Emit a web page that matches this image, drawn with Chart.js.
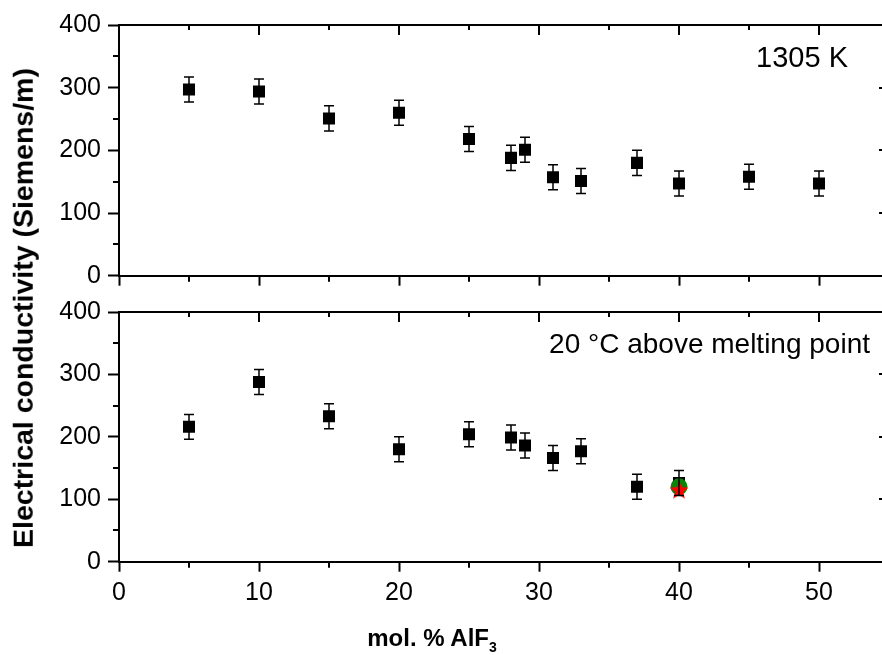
<!DOCTYPE html>
<html>
<head>
<meta charset="utf-8">
<script src="https://cdn.jsdelivr.net/npm/chart.js@4/dist/chart.umd.min.js"></script>
<style>
  html, body { margin: 0; padding: 0; background: #fff; overflow: hidden; }
  #wrap { position: relative; width: 882px; height: 655px; font-family: 'Liberation Sans', Arial, sans-serif; }
  canvas { position: absolute; left: 0; }
  #topChart { top: 0; }
  #botChart { top: 290px; }
  .ytitle { position: absolute; left: 23px; top: 308px; transform: translate(-50%, -50%) rotate(-90deg);
            white-space: nowrap; font-weight: bold; font-size: 28.5px; line-height: 1; color: #000; }
  .xtitle { position: absolute; left: 432px; top: 626px; transform: translateX(-50%);
            white-space: nowrap; font-weight: bold; font-size: 24px; line-height: 1; color: #000; }
  .xtitle sub { font-size: 14px; vertical-align: -6px; line-height: 0; }
</style>
</head>
<body>
<div id="wrap">
  <canvas id="topChart" width="882" height="300"></canvas>
  <canvas id="botChart" width="882" height="365"></canvas>
  <div class="ytitle">Electrical conductivity (Siemens/m)</div>
  <div class="xtitle">mol. % AlF<sub>3</sub></div>
</div>
<script>
// mol. % AlF3
var xHot = [5, 10, 15, 20, 25, 28, 29, 31, 33, 37, 40, 45, 50];
// conductivity at 1305 K
var sigmaHot = [297, 294, 251, 260, 218, 188, 201, 157, 151, 180, 147, 158, 147];
var errHot = [20, 20, 20, 20, 20, 20, 20, 20, 20, 20, 20, 20, 20];
// conductivity 20 °C above melting point
var xMelt = [5, 10, 15, 20, 25, 28, 29, 31, 33, 37, 40];
var sigmaMelt = [216, 288, 233, 180, 204, 199, 186, 166, 177, 120, 126];
var errMelt = [20, 20, 20, 20, 20, 20, 20, 20, 20, 20, 20];
// extra points at 40 mol. %
var xExtra = [40];
var circleVal = [120];
var starVal = [114];

var xMajor = [0, 10, 20, 30, 40, 50];
var yMajor = [0, 100, 200, 300, 400];

var FONT = "'Liberation Sans', Arial, sans-serif";

function pts(xs, ys) {
    return xs.map(function(v, i) { return {x: v, y: ys[i]}; });
}

// red filled star used as point style
var starImg = document.createElement('canvas');
starImg.width = 22; starImg.height = 22;
(function() {
    var c = starImg.getContext('2d');
    c.fillStyle = '#ff0000';
    c.beginPath();
    for (var k = 0; k < 10; k++) {
        var r = k % 2 ? 4.2 : 10;
        var a = -Math.PI / 2 + k * Math.PI / 5;
        var px = 11 + r * Math.cos(a), py = 11 + r * Math.sin(a);
        if (k === 0) c.moveTo(px, py); else c.lineTo(px, py);
    }
    c.closePath();
    c.fill();
})();

var errorBars = {
    id: 'errorBars',
    afterDatasetsDraw: function(chart) {
        var ctx = chart.ctx, ys = chart.scales.y;
        chart.data.datasets.forEach(function(ds, i) {
            if (!ds.errors) return;
            var meta = chart.getDatasetMeta(i);
            ctx.save();
            ctx.strokeStyle = '#000';
            ctx.lineWidth = 1.5;
            meta.data.forEach(function(pt, j) {
                var v = ds.data[j].y, e = ds.errors[j];
                var yt = ys.getPixelForValue(v + e), yb = ys.getPixelForValue(v - e);
                ctx.beginPath();
                ctx.moveTo(pt.x, yt); ctx.lineTo(pt.x, yb);
                ctx.moveTo(pt.x - 5, yt); ctx.lineTo(pt.x + 5, yt);
                ctx.moveTo(pt.x - 5, yb); ctx.lineTo(pt.x + 5, yb);
                ctx.stroke();
            });
            ctx.restore();
        });
    }
};

// top border, inward/minor ticks, right side ticks, panel label
var frame = {
    id: 'frame',
    afterDraw: function(chart, args, opts) {
        var ctx = chart.ctx, a = chart.chartArea;
        var xs = chart.scales.x, ys = chart.scales.y;
        ctx.save();
        ctx.strokeStyle = '#000';
        ctx.lineWidth = 2;
        ctx.beginPath();
        ctx.moveTo(a.left - 1, a.top); ctx.lineTo(a.right, a.top);
        for (var v = 5; v <= 50; v += 5) {
            var px = Math.round(xs.getPixelForValue(v));
            ctx.moveTo(px, a.top); ctx.lineTo(px, a.top + (v % 10 ? 5 : 10));
            if (v % 10) { ctx.moveTo(px, a.bottom); ctx.lineTo(px, a.bottom + 6); }
        }
        for (var w = 50; w < 400; w += 100) {
            var py = Math.round(ys.getPixelForValue(w));
            ctx.moveTo(a.left, py); ctx.lineTo(a.left - 6, py);
        }
        for (var u = 100; u < 400; u += 100) {
            var qy = Math.round(ys.getPixelForValue(u));
            ctx.moveTo(a.right - 3, qy); ctx.lineTo(a.right, qy);
        }
        ctx.stroke();
        ctx.fillStyle = '#000';
        ctx.font = opts.size + 'px ' + FONT;
        ctx.textAlign = 'right';
        ctx.textBaseline = 'middle';
        ctx.fillText(opts.text, a.right - opts.dx, a.top + opts.dy);
        ctx.restore();
    }
};

function setTicks(list) {
    return function(s) {
        s.ticks = list.map(function(v) { return {value: v}; });
    };
}

function yScale() {
    return {
        min: 0, max: 400,
        afterBuildTicks: setTicks(yMajor),
        afterFit: function(s) { s.width = 119; },
        ticks: {stepSize: 100, padding: 7, color: '#000', font: {size: 25, family: FONT}},
        grid: {drawOnChartArea: false, tickLength: 11, tickWidth: 2, tickColor: '#000'},
        border: {color: '#000', width: 2}
    };
}

function xScale(showLabels, height) {
    return {
        type: 'linear', min: 0, max: 54.5,
        afterBuildTicks: setTicks(xMajor),
        afterFit: function(s) { s.height = height; },
        ticks: {display: showLabels, stepSize: 10, padding: 6, color: '#000', maxRotation: 0,
                font: {size: 25, family: FONT}},
        grid: {drawOnChartArea: false, tickLength: 10, tickWidth: 2, tickColor: '#000'},
        border: {color: '#000', width: 2}
    };
}

var squareStyle = {pointStyle: 'rect', pointRadius: 8.5, backgroundColor: '#000', borderColor: '#000', borderWidth: 0};

new Chart(document.getElementById('topChart'), {
    type: 'scatter',
    data: {
        datasets: [Object.assign({label: '1305 K', data: pts(xHot, sigmaHot), errors: errHot}, squareStyle)]
    },
    options: {
        responsive: false, animation: false, events: [],
        layout: {autoPadding: false, padding: {top: 25, right: 0, bottom: 0, left: 0}},
        plugins: {legend: {display: false}, tooltip: {enabled: false},
                  frame: {text: '1305 K', dx: 34, dy: 34, size: 29}},
        scales: {x: xScale(false, 24.3), y: yScale()}
    },
    plugins: [errorBars, frame]
});

new Chart(document.getElementById('botChart'), {
    type: 'scatter',
    data: {
        datasets: [
            Object.assign({label: 'melting', data: pts(xMelt, sigmaMelt), errors: errMelt, order: 3}, squareStyle),
            {label: 'circle', data: pts(xExtra, circleVal), order: 2, pointStyle: 'circle', pointRadius: 8.5,
             backgroundColor: '#0a830a', borderColor: '#0a830a', borderWidth: 0},
            {label: 'star', data: pts(xExtra, starVal), order: 1, pointStyle: starImg, pointRadius: 10}
        ]
    },
    options: {
        responsive: false, animation: false, events: [],
        layout: {autoPadding: false, padding: {top: 21.7, right: 0, bottom: 0, left: 0}},
        plugins: {legend: {display: false}, tooltip: {enabled: false},
                  frame: {text: '20 °C above melting point', dx: 12, dy: 33, size: 28}},
        scales: {x: xScale(true, 93.3), y: yScale()}
    },
    plugins: [errorBars, frame]
});
</script>
</body>
</html>
